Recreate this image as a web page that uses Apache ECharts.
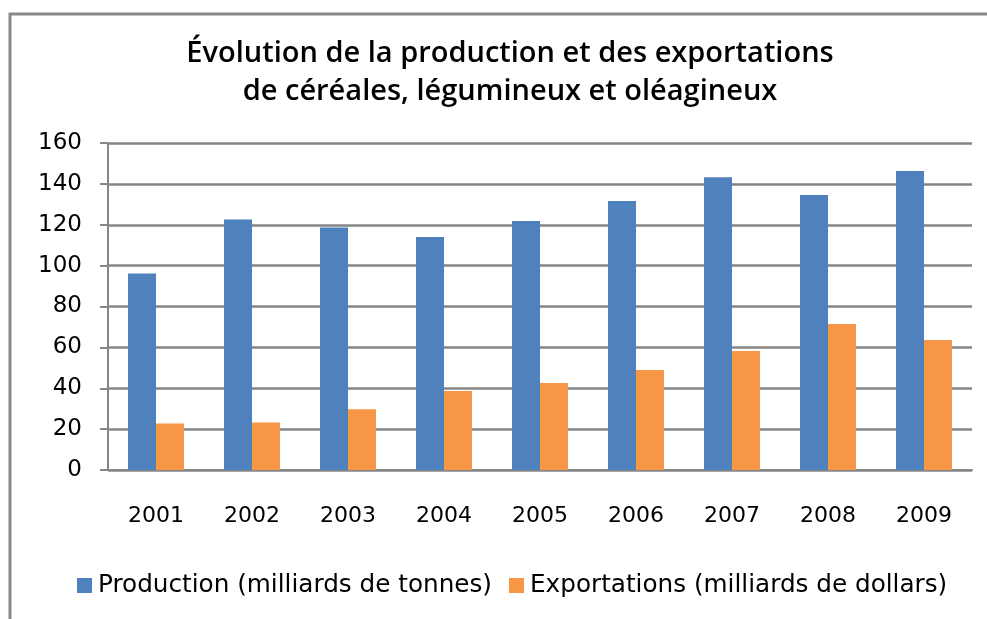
<!DOCTYPE html>
<html>
<head>
<meta charset="utf-8">
<script src="https://cdn.jsdelivr.net/npm/echarts@6/dist/echarts.min.js"></script>
<style>
  html, body { margin: 0; padding: 0; background: #fff; }
  #chart { width: 987px; height: 619px; }
</style>
</head>
<body>
<div id="chart"></div>
<script>
// Céréales, légumineux et oléagineux — production vs exportations, 2001–2009
const years = ['2001', '2002', '2003', '2004', '2005', '2006', '2007', '2008', '2009'];
const production = [96.2, 122.6, 118.7, 114.0, 121.8, 131.6, 143.3, 134.5, 146.3];
const exportations = [22.8, 23.3, 29.7, 38.6, 42.6, 48.9, 58.2, 71.4, 63.6];
const yTicks = [0, 20, 40, 60, 80, 100, 120, 140, 160];

const GRID = '#868686';
const FONT = 'DejaVu Sans';

const chart = echarts.init(document.getElementById('chart'), null, { renderer: 'canvas' });
chart.setOption({
  animation: false,
  backgroundColor: '#fff',
  color: ['#4F81BD', '#F79646'],
  title: {
    text: 'Évolution de la production et des exportations\nde céréales, légumineux et oléagineux',
    left: 505, top: 30, textAlign: 'center',
    textStyle: { fontFamily: 'Open Sans', fontWeight: 600, fontSize: 29, lineHeight: 38, color: '#000' },
  },
  // chart frame (top + left edge only, as in the original)
  graphic: [{
    type: 'polyline', silent: true,
    shape: { points: [[10, 619], [10, 14], [987, 14]] },
    style: { stroke: '#888', lineWidth: 3, fill: null },
  }],
  legend: {
    bottom: 16, left: 72, itemGap: 17, itemWidth: 15, itemHeight: 15, icon: 'rect',
    textStyle: { fontFamily: FONT, fontSize: 24.7, color: '#000', padding: [0, 0, 0, 1] },
  },
  grid: { left: 108, right: 15, top: 143, bottom: 149 },
  xAxis: {
    type: 'category', data: years,
    axisLine: { lineStyle: { color: GRID, width: 2 } },
    axisTick: { length: 11, interval: 0, lineStyle: { color: GRID, width: 2 } },
    axisLabel: { fontFamily: FONT, fontSize: 22, color: '#000', margin: 35 },
  },
  yAxis: {
    type: 'value', min: yTicks[0], max: yTicks[yTicks.length - 1], interval: 20,
    axisLine: { show: true, lineStyle: { color: GRID, width: 2 } },
    axisTick: { show: true, length: 8, lineStyle: { color: GRID, width: 2 } },
    axisLabel: { fontFamily: FONT, fontSize: 23, color: '#000', margin: 26 },
    splitLine: { lineStyle: { color: GRID, width: 2.5 } },
  },
  series: [
    { name: 'Production (milliards de tonnes)', type: 'bar', data: production, barWidth: 28, barGap: '0%' },
    { name: 'Exportations (milliards de dollars)', type: 'bar', data: exportations, barWidth: 28, barGap: '0%' },
  ],
});
</script>
</body>
</html>
